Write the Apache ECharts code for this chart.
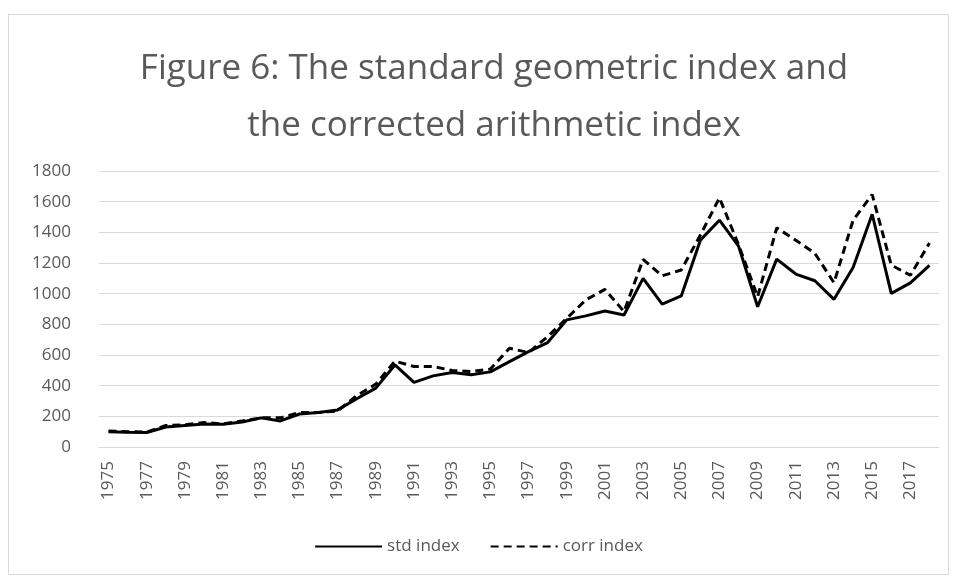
<!DOCTYPE html>
<html>
<head>
<meta charset="utf-8">
<script src="https://cdn.jsdelivr.net/npm/echarts@6/dist/echarts.min.js"></script>
<style>
  html, body { margin: 0; padding: 0; background: #fff; }
  #chart { width: 957px; height: 582px; }
</style>
</head>
<body>
<div id="chart"></div>
<script>
const years = [];
for (let y = 1975; y <= 2018; y++) years.push(String(y));

const stdIndex = [100, 96, 95, 130, 140, 150, 148, 163, 190, 170,
  215, 225, 242, 315, 384, 535, 421, 464, 486, 471,
  490, 557, 622, 681, 829, 855, 887, 861, 1100, 932,
  985, 1349, 1479, 1310, 915, 1225, 1128, 1084, 963, 1171,
  1518, 1002, 1070, 1185];
const corrIndex = [105, 100, 97, 140, 145, 160, 150, 170, 190, 190,
  225, 225, 235, 335, 410, 560, 525, 525, 499, 492,
  508, 644, 616, 720, 839, 959, 1028, 883, 1223, 1117,
  1154, 1382, 1625, 1320, 980, 1429, 1349, 1263, 1071, 1479,
  1646, 1186, 1120, 1330];

const seriesNames = ['std index', 'corr index'];
const textColor = '#595959';
const fontFam = "'Open Sans', 'Noto Sans', sans-serif";

const chart = echarts.init(document.getElementById('chart'));
chart.setOption({
  animation: false,
  backgroundColor: '#fff',
  title: {
    text: 'Figure 6: The standard geometric index and\nthe corrected arithmetic index',
    left: 489,
    top: 36,
    textAlign: 'center',
    textStyle: {
      color: textColor,
      fontFamily: fontFam,
      fontWeight: 'normal',
      fontSize: 35,
      lineHeight: 57
    }
  },
  graphic: [{
    type: 'rect',
    shape: { x: 8.5, y: 14.5, width: 940, height: 560 },
    style: { fill: 'none', stroke: '#d9d9d9', lineWidth: 1 },
    silent: true
  }],
  legend: {
    bottom: 22,
    left: 'center',
    itemWidth: 67,
    itemHeight: 14,
    itemGap: 30,
    itemStyle: { opacity: 0 },
    textStyle: { color: textColor, fontFamily: fontFam, fontSize: 17 },
    data: seriesNames
  },
  grid: {
    left: 99,
    right: 18,
    top: 171,
    bottom: 135,
    containLabel: false
  },
  xAxis: {
    type: 'category',
    data: years,
    boundaryGap: true,
    axisLine: { lineStyle: { color: '#d9d9d9', width: 1 } },
    axisTick: { show: false },
    axisLabel: {
      interval: 1,
      rotate: 90,
      margin: 14,
      color: textColor,
      fontFamily: fontFam,
      fontSize: 17
    }
  },
  yAxis: {
    type: 'value',
    min: 0,
    max: 1800,
    interval: 200,
    axisLine: { show: false },
    axisTick: { show: false },
    splitLine: { lineStyle: { color: '#d9d9d9', width: 1 } },
    axisLabel: {
      margin: 28,
      color: textColor,
      fontFamily: fontFam,
      fontSize: 17,
      formatter: v => String(v)
    }
  },
  series: [
    {
      name: seriesNames[0],
      type: 'line',
      data: stdIndex,
      symbol: 'none',
      lineStyle: { color: '#000', width: 3 },
      itemStyle: { color: '#000' }
    },
    {
      name: seriesNames[1],
      type: 'line',
      data: corrIndex,
      symbol: 'none',
      lineStyle: { color: '#000', width: 3, type: [8, 5] },
      itemStyle: { color: '#000' }
    }
  ]
});
</script>
</body>
</html>
